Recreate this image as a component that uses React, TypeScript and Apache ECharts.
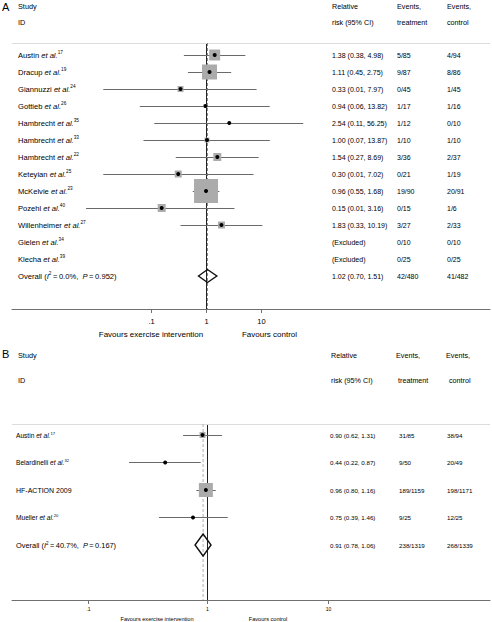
import React, { useEffect, useRef } from "react";
import * as echarts from "echarts";

const FONT = "'Liberation Sans', Arial, Helvetica, sans-serif";

// ---------------- Panel A data ----------------
const namesA = ["Austin", "Dracup", "Giannuzzi", "Gottieb", "Hambrecht", "Hambrecht", "Hambrecht", "Keteyian", "McKelvie", "Pozehl", "Willenheimer", "Gielen", "Klecha"];
const refsA = ["17", "19", "24", "26", "35", "33", "22", "25", "23", "40", "27", "34", "39"];
const etAlA = [true, true, true, true, true, true, true, true, true, true, true, true, true];
const rrA = [1.38, 1.11, 0.33, 0.94, 2.54, 1.0, 1.54, 0.3, 0.96, 0.15, 1.83, NaN, NaN];
const loA = [0.38, 0.45, 0.013, 0.06, 0.11, 0.07, 0.27, 0.013, 0.55, 0.0063, 0.33, NaN, NaN];
const hiA = [4.98, 2.75, 7.97, 13.82, 56.25, 13.87, 8.69, 7.02, 1.68, 3.16, 10.19, NaN, NaN];
const weightA = [9.8, 18.3, 2.9, 1.3, 0.3, 2.0, 5.2, 4.0, 46.9, 5.2, 4.0, 0, 0];
const rrTextA = ["1.38 (0.38, 4.98)", "1.11 (0.45, 2.75)", "0.33 (0.01, 7.97)", "0.94 (0.06, 13.82)", "2.54 (0.11, 56.25)", "1.00 (0.07, 13.87)", "1.54 (0.27, 8.69)", "0.30 (0.01, 7.02)", "0.96 (0.55, 1.68)", "0.15 (0.01, 3.16)", "1.83 (0.33, 10.19)", "(Excluded)", "(Excluded)"];
const treatA = ["5/85", "9/87", "0/45", "1/17", "1/12", "1/10", "3/36", "0/21", "19/90", "0/15", "3/27", "0/10", "0/25"];
const ctrlA = ["4/94", "8/86", "1/45", "1/16", "0/10", "1/10", "2/37", "1/19", "20/91", "1/6", "2/33", "0/10", "0/25"];
const overallA = [1.02, 0.7, 1.51];
const overallStatsA = ["0.0%", "0.952"];
const overallTextA = ["1.02 (0.70, 1.51)", "42/480", "41/482"];

// ---------------- Panel B data ----------------
const namesB = ["Austin", "Belardinelli", "HF-ACTION 2009", "Mueller"];
const refsB = ["17", "32", "", "20"];
const etAlB = [true, true, false, true];
const rrB = [0.9, 0.44, 0.96, 0.75];
const loB = [0.62, 0.22, 0.8, 0.39];
const hiB = [1.31, 0.87, 1.16, 1.46];
const weightB = [15.0, 1.7, 81.7, 1.7];
const rrTextB = ["0.90 (0.62, 1.31)", "0.44 (0.22, 0.87)", "0.96 (0.80, 1.16)", "0.75 (0.39, 1.46)"];
const treatB = ["31/85", "9/50", "189/1159", "9/25"];
const ctrlB = ["38/94", "20/49", "198/1171", "12/25"];
const overallB = [0.91, 0.78, 1.06];
const overallStatsB = ["40.7%", "0.167"];
const overallTextB = ["0.91 (0.78, 1.06)", "238/1319", "268/1339"];

// axis ticks
const tickValues = [0.1, 1, 10];
const tickLabels = [".1", "1", "10"];

// ---------------- layout ----------------
const LEFT = 12;
const RIGHT = 490;

type Panel = {
  top: number; bottom: number; rowTop: number; rowStep: number; nullX: number; decade: number;
  labelX: number; rrX: number; treatX: number; ctrlX: number;
  labelSize: number; dataSize: number; overallSize: number; tickSize: number;
  boxScale: number; diamondHalf: number; dashColor: string;
  names: string[]; refs: string[]; etAl: boolean[]; rr: number[]; lo: number[]; hi: number[]; w: number[];
  rrText: string[]; treat: string[]; ctrl: string[];
  overall: number[]; stats: string[]; overallText: string[];
  labelSizeFor?: (i: number) => number;
};

const PA: Panel = {
  top: 43, bottom: 309, rowTop: 55, rowStep: 17, nullX: 207, decade: 55,
  labelX: 18, rrX: 332, treatX: 397, ctrlX: 447,
  labelSize: 7.6, dataSize: 7, overallSize: 7.6, tickSize: 7.5,
  boxScale: 35, diamondHalf: 6.5, dashColor: "#8a8a8a",
  names: namesA, refs: refsA, etAl: etAlA, rr: rrA, lo: loA, hi: hiA, w: weightA,
  rrText: rrTextA, treat: treatA, ctrl: ctrlA,
  overall: overallA, stats: overallStatsA, overallText: overallTextA,
};

const PB: Panel = {
  top: 424, bottom: 600, rowTop: 435, rowStep: 27.5, nullX: 208, decade: 120,
  labelX: 16, rrX: 330, treatX: 399, ctrlX: 447,
  labelSize: 6.6, dataSize: 6.2, overallSize: 7.4, tickSize: 5,
  boxScale: 15.5, diamondHalf: 11, dashColor: "#b0b0b0",
  names: namesB, refs: refsB, etAl: etAlB, rr: rrB, lo: loB, hi: hiB, w: weightB,
  rrText: rrTextB, treat: treatB, ctrl: ctrlB,
  overall: overallB, stats: overallStatsB, overallText: overallTextB,
  labelSizeFor: (i: number) => (namesB[i] === "HF-ACTION 2009" ? 7 : 6.6),
};

const TXT = "#000000";
const crisp = (v: number) => Math.round(v - 0.5) + 0.5;

function richStyles(f: number) {
  return {
    n: { fontSize: f, fontFamily: FONT, fill: TXT, lineHeight: f * 1.2 },
    i: { fontSize: f, fontFamily: FONT, fontStyle: "italic", fill: TXT, lineHeight: f * 1.2 },
    s: { fontSize: f * 0.62, fontFamily: FONT, fill: TXT, verticalAlign: "top", lineHeight: f * 0.62 },
  };
}

function labelRich(name: string, ref: string, etAl: boolean) {
  let s = `{n|${name}}`;
  if (etAl) s += `{n| }{i|et al.}`;
  if (ref) s += `{s|${ref}}`;
  return s;
}

function text(x: number, y: number, str: string, size: number, align = "left", rich?: any) {
  const style: any = { text: str, x: 0, y: 0, fontSize: size, fontFamily: FONT, fill: TXT, align, verticalAlign: "middle" };
  if (rich) style.rich = rich;
  return { type: "text", x, y, style, silent: true };
}

function buildPanel(p: Panel, gi: number) {
  const xmin = Math.pow(10, (LEFT - p.nullX) / p.decade);
  const xmax = Math.pow(10, (RIGHT - p.nullX) / p.decade);
  const ymin = (p.top - p.rowTop) / p.rowStep;
  const ymax = (p.bottom - p.rowTop) / p.rowStep;

  const grid = { left: LEFT, top: p.top, width: RIGHT - LEFT, height: p.bottom - p.top, containLabel: false };
  const xAxis = {
    type: "log", logBase: 10, gridIndex: gi, min: xmin, max: xmax,
    axisLine: { show: true, onZero: false, lineStyle: { color: "#707070", width: 1 } },
    axisTick: { show: false }, axisLabel: { show: false }, splitLine: { show: false },
  };
  const yAxis = {
    type: "value", gridIndex: gi, inverse: true, min: ymin, max: ymax, show: false,
    axisLine: { onZero: false }, splitLine: { show: false },
  };

  const refSeries = {
    type: "custom", xAxisIndex: gi, yAxisIndex: gi, z: 1, silent: true,
    data: [[1, 0]],
    renderItem: (params: any, api: any) => {
      const cs = params.coordSys;
      const x = crisp(api.coord([api.value(0), 0])[0]);
      return {
        type: "group",
        children: [
          { type: "line", shape: { x1: x, y1: cs.y, x2: x, y2: cs.y + cs.height }, style: { stroke: "#222", lineWidth: 1 } },
          { type: "line", shape: { x1: cs.x, y1: crisp(cs.y), x2: cs.x + cs.width, y2: crisp(cs.y) }, style: { stroke: "#dcdcdc", lineWidth: 1 } },
        ],
      };
    },
  };

  const tickSeries = {
    type: "custom", xAxisIndex: gi, yAxisIndex: gi, z: 1, silent: true,
    data: tickValues.map((v) => [v, 0]),
    renderItem: (params: any, api: any) => {
      const cs = params.coordSys;
      const x = crisp(api.coord([api.value(0), 0])[0]);
      const yb = cs.y + cs.height;
      return {
        type: "group",
        children: [
          { type: "line", shape: { x1: x, y1: yb, x2: x, y2: yb + 4 }, style: { stroke: "#707070", lineWidth: 1 } },
          text(x, yb + (gi === 0 ? 12 : 9), tickLabels[params.dataIndex], p.tickSize, "center"),
        ],
      };
    },
  };

  const studySeries = {
    type: "custom", xAxisIndex: gi, yAxisIndex: gi, z: 3, silent: true,
    data: p.names.map((_, i) => [p.rr[i], i, p.lo[i], p.hi[i], p.w[i]]),
    renderItem: (params: any, api: any) => {
      const i = params.dataIndex;
      const row = api.value(1);
      const rr = api.value(0), lo = api.value(2), hi = api.value(3), w = api.value(4);
      const y = api.coord([1, row])[1];
      const children: any[] = [];
      if (isFinite(lo) && isFinite(hi)) {
        const x0 = api.coord([lo, row])[0];
        const x1 = api.coord([hi, row])[0];
        const pc = api.coord([rr, row]);
        children.push({ type: "line", shape: { x1: x0, y1: crisp(y), x2: x1, y2: crisp(y) }, style: { stroke: "#6a6a6a", lineWidth: 1 } });
        const s = Math.sqrt(w / 100) * p.boxScale;
        if (s > 0.5) children.push({ type: "rect", shape: { x: pc[0] - s / 2, y: pc[1] - s / 2, width: s, height: s }, style: { fill: "#ababab" } });
        children.push({ type: "circle", shape: { cx: pc[0], cy: pc[1], r: 2 }, style: { fill: "#000" } });
      }
      const ls = p.labelSizeFor ? p.labelSizeFor(i) : p.labelSize;
      children.push(text(p.labelX, y, labelRich(p.names[i], p.refs[i], p.etAl[i]), ls, "left", richStyles(ls)));
      children.push(text(p.rrX, y, p.rrText[i], p.dataSize));
      children.push(text(p.treatX, y, p.treat[i], p.dataSize));
      children.push(text(p.ctrlX, y, p.ctrl[i], p.dataSize));
      return { type: "group", children };
    },
  };

  const overallSeries = {
    type: "custom", xAxisIndex: gi, yAxisIndex: gi, z: 2, silent: true,
    data: [[p.overall[0], p.names.length, p.overall[1], p.overall[2]]],
    renderItem: (params: any, api: any) => {
      const cs = params.coordSys;
      const row = api.value(1);
      const pc = api.coord([api.value(0), row]);
      const xl = api.coord([api.value(2), row])[0];
      const xh = api.coord([api.value(3), row])[0];
      const h = p.diamondHalf;
      const f = p.overallSize;
      const lab = `{n|Overall (}{i|I}{s|2}{n|\u2009=\u2009${p.stats[0]},  }{i|P}{n|\u2009=\u2009${p.stats[1]})}`;
      return {
        type: "group",
        children: [
          { type: "line", shape: { x1: pc[0], y1: cs.y, x2: pc[0], y2: cs.y + cs.height }, style: { stroke: p.dashColor, lineWidth: 1, lineDash: [3, 2] } },
          { type: "polygon", shape: { points: [[xl, pc[1]], [pc[0], pc[1] - h], [xh, pc[1]], [pc[0], pc[1] + h]] }, style: { fill: "none", stroke: "#111", lineWidth: 1.4 }, z2: 10 },
          text(p.labelX, pc[1], lab, f, "left", richStyles(f)),
          text(p.rrX, pc[1], p.overallText[0], p.dataSize),
          text(p.treatX, pc[1], p.overallText[1], p.dataSize),
          text(p.ctrlX, pc[1], p.overallText[2], p.dataSize),
        ],
      };
    },
  };

  return { grid, xAxis, yAxis, series: [refSeries, tickSeries, overallSeries, studySeries] };
}

function gtext(x: number, y: number, str: string, size: number, align = "left") {
  return { type: "text", x, y, silent: true, style: { text: str, fontSize: size, fontFamily: FONT, fill: TXT, align, verticalAlign: "middle" } };
}

function buildOption() {
  const a = buildPanel(PA, 0);
  const b = buildPanel(PB, 1);
  const graphic = [
    gtext(2, 7, "A", 11),
    gtext(18, 6, "Study", 7.3),
    gtext(18, 22, "ID", 7.3),
    gtext(332, 6, "Relative", 7.2),
    gtext(332, 22, "risk (95% CI)", 7.2),
    gtext(397, 6, "Events,", 7.2),
    gtext(397, 22, "treatment", 7.2),
    gtext(447, 6, "Events,", 7.2),
    gtext(447, 22, "control", 7.2),
    gtext(151, 334, "Favours exercise intervention", 8, "center"),
    gtext(269.5, 334, "Favours control", 8, "center"),

    gtext(2, 354, "B", 11),
    gtext(18, 355, "Study", 7.3),
    gtext(18, 380, "ID", 7.3),
    gtext(331, 355, "Relative", 7.2),
    gtext(331, 380, "risk (95% CI)", 7.2),
    gtext(396, 355, "Events,", 7.2),
    gtext(398, 380, "treatment", 7.2),
    gtext(446, 355, "Events,", 7.2),
    gtext(449, 380, "control", 7.2),
    gtext(157, 619, "Favours exercise intervention", 5.6, "center"),
    gtext(268, 619, "Favours control", 5.6, "center"),
  ];
  return {
    animation: false,
    backgroundColor: "#ffffff",
    grid: [a.grid, b.grid],
    xAxis: [a.xAxis, b.xAxis],
    yAxis: [a.yAxis, b.yAxis],
    series: [...a.series, ...b.series],
    graphic,
  };
}

export default function App() {
  const ref = useRef<HTMLDivElement>(null);
  useEffect(() => {
    const chart = echarts.init(ref.current as HTMLDivElement, null, { renderer: "svg" });
    chart.setOption(buildOption() as any);
    return () => chart.dispose();
  }, []);
  return (
    <div
      ref={ref}
      style={{ position: "absolute", left: 0, top: 0, width: 492, height: 622, background: "#fff" }}
    />
  );
}
